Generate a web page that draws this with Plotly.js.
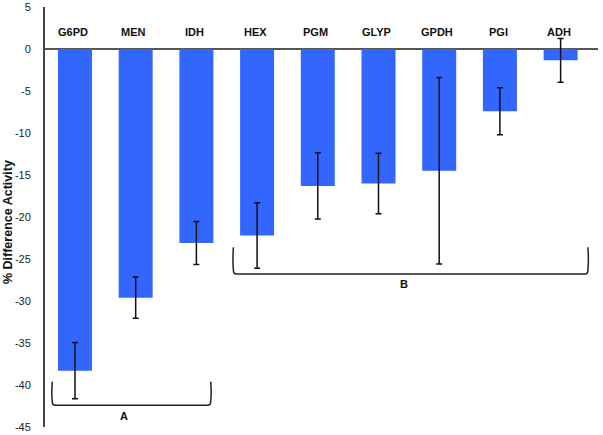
<!DOCTYPE html>
<html>
<head>
<meta charset="utf-8">
<script src="https://cdn.plot.ly/plotly-3.0.1.min.js"></script>
<style>html,body{margin:0;padding:0;background:#fff;}#chart{width:603px;height:435px;}</style>
</head>
<body>
<div id="chart"></div>
<script>
// Data
const categories = ["G6PD", "MEN", "IDH", "HEX", "PGM", "GLYP", "GPDH", "PGI", "ADH"];
const pctDiff = [-38.3, -29.6, -23.1, -22.2, -16.3, -16.0, -14.5, -7.4, -1.35];
const errVals = [3.35, 2.45, 2.55, 3.9, 3.95, 3.6, 11.1, 2.8, 2.6];
const yTicks = [5, 0, -5, -10, -15, -20, -25, -30, -35, -40, -45];
const yTitle = "% Difference Activity";
const groupLabels = ["A", "B"];
const groupStart = [-0.374, 2.61];
const groupEnd = [2.236, 8.45];
const groupArmTop = [-39.6, -23.6];
const groupBottom = [-42.4, -26.8];
const groupLabelX = [0.81, 5.42];
const groupLabelY = [-43.7, -28.0];
const catLabelY = 2.0;

const xIdx = categories.map((c, i) => i);
const FONT = 'Liberation Sans, Arial, sans-serif';

const trace = {
  type: 'bar',
  x: xIdx,
  y: pctDiff,
  width: 0.56,
  marker: {color: '#3366ff', line: {width: 0}},
  error_y: {type: 'data', array: errVals, visible: true, color: '#111', thickness: 1.5, width: 3},
  hoverinfo: 'none'
};

function bracket(x1, x2, yt, yb) {
  const rx = 0.05, ry = 0.45;
  return `M ${x1} ${yt} Q ${x1 - 0.015} ${(yt + yb) / 2} ${x1} ${yb + ry} Q ${x1} ${yb} ${x1 + rx} ${yb} L ${x2 - rx} ${yb} Q ${x2} ${yb} ${x2} ${yb + ry} Q ${x2 + 0.015} ${(yt + yb) / 2} ${x2} ${yt}`;
}

const shapes = groupLabels.map((g, i) => ({
  type: 'path', xref: 'x', yref: 'y',
  path: bracket(groupStart[i], groupEnd[i], groupArmTop[i], groupBottom[i]),
  line: {color: '#222', width: 1.5}
}));

const annotations = categories.map((c, i) => ({
  x: xIdx[i] - 0.03, y: catLabelY, xref: 'x', yref: 'y', text: '<b>' + c + '</b>',
  showarrow: false, font: {family: FONT, size: 11, color: '#111'}
})).concat(groupLabels.map((g, i) => ({
  x: groupLabelX[i], y: groupLabelY[i], xref: 'x', yref: 'y', text: '<b>' + g + '</b>',
  showarrow: false, font: {family: FONT, size: 11, color: '#111'}
}))).concat([{
  x: -0.0669, y: 0.488, xref: 'paper', yref: 'paper', text: '<b>' + yTitle + '</b>',
  textangle: -90, showarrow: false, xanchor: 'center', yanchor: 'middle',
  font: {family: FONT, size: 12.5, color: '#111'}
}]);

const layout = {
  width: 603, height: 435,
  margin: {l: 45, r: 5, t: 7, b: 8},
  paper_bgcolor: '#fff', plot_bgcolor: '#fff',
  showlegend: false,
  xaxis: {
    type: 'linear', range: [-0.494, 8.616], showgrid: false, zeroline: false,
    showticklabels: false, ticks: '', showline: false, fixedrange: true
  },
  yaxis: {
    range: [-45, 5], tickvals: yTicks, ticktext: yTicks.map(String),
    showgrid: false, zeroline: true, zerolinecolor: '#555', zerolinewidth: 2,
    showline: true, linecolor: '#444', linewidth: 2,
    ticks: 'outside', ticklen: 10, tickcolor: 'rgba(0,0,0,0)',
    tickfont: {family: FONT, size: 11, color: '#222'},
    fixedrange: true
  },
  shapes: shapes,
  annotations: annotations
};

Plotly.newPlot('chart', [trace], layout, {displayModeBar: false, staticPlot: true});
</script>
</body>
</html>
